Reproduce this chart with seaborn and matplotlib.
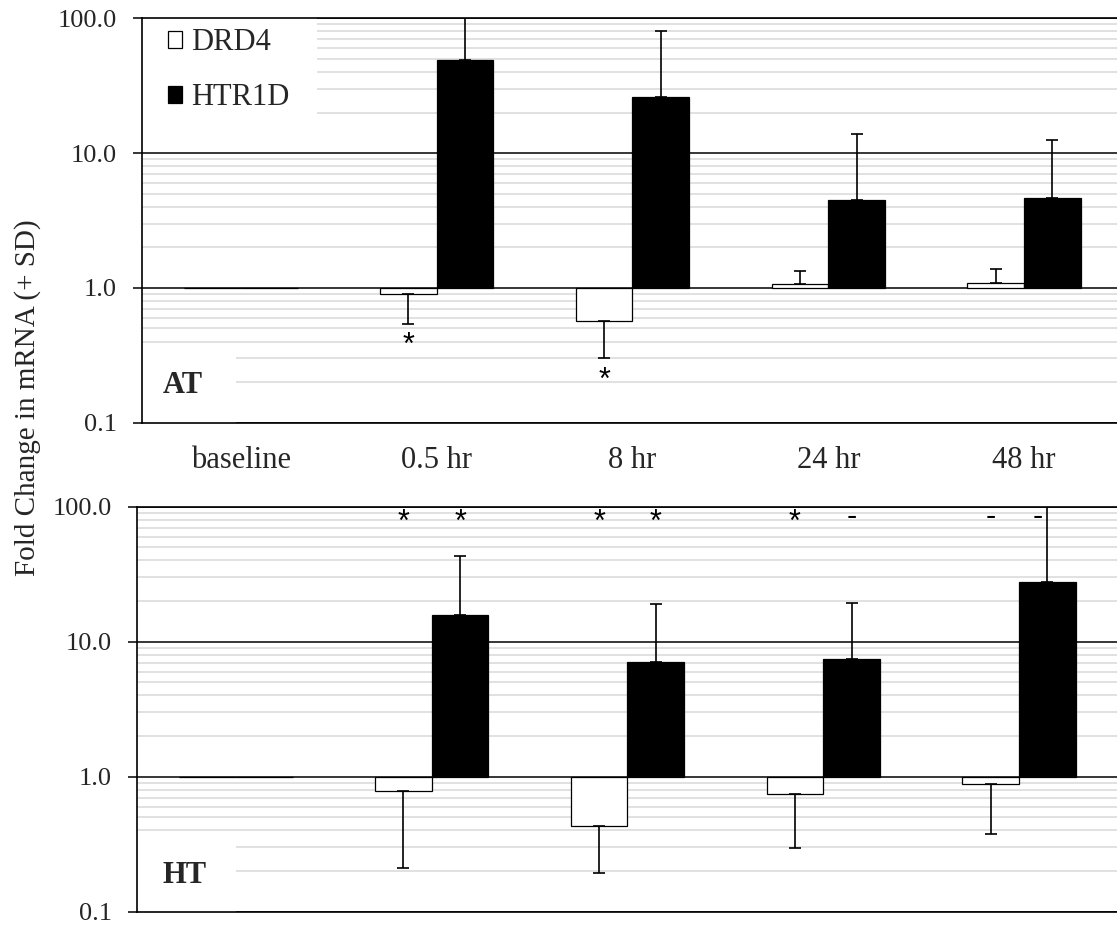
import matplotlib
matplotlib.use("Agg")
import matplotlib.pyplot as plt
from matplotlib.patches import Patch, Rectangle
from matplotlib.ticker import FixedLocator, FixedFormatter, LogLocator, NullFormatter
import pandas as pd
import seaborn as sns

# ---- data -------------------------------------------------------------
times = ["baseline", "0.5 hr", "8 hr", "24 hr", "48 hr"]
genes = ["DRD4", "HTR1D"]

# AT group: fold change and the end point of the +SD whisker
at_drd4 = [1.0, 0.90, 0.57, 1.07, 1.08]
at_drd4_sd_end = [1.0, 0.54, 0.30, 1.34, 1.37]
at_htr1d = [1.0, 49.3, 26.0, 4.5, 4.65]
at_htr1d_sd_end = [1.0, 150.0, 80.0, 13.9, 12.6]

# HT group
ht_drd4 = [1.0, 0.78, 0.43, 0.75, 0.89]
ht_drd4_sd_end = [1.0, 0.21, 0.195, 0.295, 0.375]
ht_htr1d = [1.0, 15.9, 7.1, 7.5, 27.5]
ht_htr1d_sd_end = [1.0, 43.0, 18.9, 19.2, 101.0]

# significance marks
at_marks_drd4 = ["", "*", "*", "", ""]
ht_marks_drd4 = ["", "*", "*", "*", "-"]
ht_marks_htr1d = ["", "*", "*", "-", "-"]

tick_values = [0.1, 1.0, 10.0, 100.0]
tick_labels = ["0.1", "1.0", "10.0", "100.0"]

# ---- style ------------------------------------------------------------
sns.set_style("white")
plt.rcParams["font.family"] = ["Liberation Serif", "DejaVu Serif"]
plt.rcParams["axes.linewidth"] = 1.2

W, H = 1117, 926
fig = plt.figure(figsize=(W / 100, H / 100), dpi=100)
fig.patch.set_facecolor("white")

ax_at = fig.add_axes([142 / W, 1 - 422.7 / H, 980 / W, 404.4 / H])
ax_ht = fig.add_axes([137 / W, 1 - 911.7 / H, 980 / W, 405.0 / H])


def draw_panel(ax, drd4, drd4_end, htr1d, htr1d_end, show_xlabels):
    df = pd.DataFrame({
        "time": times * 2,
        "gene": [genes[0]] * len(times) + [genes[1]] * len(times),
        "fold": drd4 + htr1d,
    })
    # bars grow from the 1.0 line, up or down
    df["rise"] = df["fold"] - 1.0
    sns.barplot(data=df, x="time", y="rise", hue="gene", order=times,
                hue_order=genes, palette=["white", "black"], saturation=1,
                edgecolor="black", linewidth=0.9, width=0.58, bottom=1.0,
                errorbar=None, legend=False, ax=ax, zorder=2)

    ax.set_yscale("log")
    ax.set_ylim(0.1, 100)
    ax.set_xlim(-0.505, 4.5)
    ax.yaxis.set_major_locator(FixedLocator(tick_values))
    ax.yaxis.set_major_formatter(FixedFormatter(tick_labels))
    ax.yaxis.set_minor_locator(LogLocator(base=10, subs=range(2, 10)))
    ax.yaxis.set_minor_formatter(NullFormatter())
    ax.set_axisbelow(True)
    ax.grid(which="minor", axis="y", color="#d9d9d9", linewidth=1.1)
    ax.grid(which="major", axis="y", color="black", linewidth=1.1)
    ax.grid(which="both", axis="x", visible=False)
    ax.set_xlabel("")
    ax.set_ylabel("")
    ax.tick_params(axis="y", which="major", length=6.5, width=1.1,
                   pad=11.5, labelsize=19, left=True, color="black")
    ax.tick_params(axis="y", which="minor", length=0)
    ax.tick_params(axis="x", length=0, pad=17, labelsize=22)
    if not show_xlabels:
        ax.set_xticklabels([])
    for side in ("left", "top", "bottom"):
        ax.spines[side].set_color("black")
        ax.spines[side].set_linewidth(1.2)
    ax.spines["right"].set_visible(False)

    # one-sided SD whiskers
    centers = []
    for cont, vals, ends in zip(ax.containers, [drd4, htr1d], [drd4_end, htr1d_end]):
        xs = []
        for bar, v, e in zip(cont, vals, ends):
            xc = bar.get_x() + bar.get_width() / 2
            xs.append(xc)
            if e == v:
                continue
            lo, hi = (v - e, 0.0) if e < v else (0.0, e - v)
            ax.errorbar(xc, v, yerr=[[lo], [hi]], fmt="none", ecolor="black",
                        elinewidth=1.2, capsize=4.3, capthick=1.2, zorder=3)
        centers.append(xs)
    return centers


at_centers = draw_panel(ax_at, at_drd4, at_drd4_sd_end, at_htr1d, at_htr1d_sd_end, True)
ht_centers = draw_panel(ax_ht, ht_drd4, ht_drd4_sd_end, ht_htr1d, ht_htr1d_sd_end, False)

mark_font = dict(family="Liberation Sans", fontsize=22, color="black")

# AT: marks beneath the DRD4 whiskers
for xc, end, m in zip(at_centers[0], at_drd4_sd_end, at_marks_drd4):
    if m:
        ax_at.annotate(m, (xc, end), xytext=(0, -16), textcoords="offset points",
                       ha="center", va="center", **mark_font)

# HT: marks along the top of the panel; the last one sits left of its whisker
top_tf = ax_ht.get_xaxis_transform()
for gi, (xs, marks) in enumerate(zip(ht_centers, [ht_marks_drd4, ht_marks_htr1d])):
    for ti, (xc, m) in enumerate(zip(xs, marks)):
        if m:
            dx = -7 if (gi == 1 and ti == len(times) - 1) else 0
            dy = -4.5 if m == "*" else 0
            ax_ht.annotate(m, (xc, 0.975), xycoords=top_tf, xytext=(dx, dy),
                           textcoords="offset points", ha="center", va="center",
                           **mark_font)

# white backing behind legend and panel tags
ax_at.add_patch(Rectangle((0, 0.6966), 0.1786, 0.3034, transform=ax_at.transAxes,
                          facecolor="white", edgecolor="none", zorder=1))
ax_at.add_patch(Rectangle((0, 0), 0.0959, 0.18, transform=ax_at.transAxes,
                          facecolor="white", edgecolor="none", zorder=1))
ax_ht.add_patch(Rectangle((0, 0), 0.101, 0.18, transform=ax_ht.transAxes,
                          facecolor="white", edgecolor="none", zorder=1))

ax_at.text(0.0214, 0.0727, "AT", transform=ax_at.transAxes, ha="left",
           va="baseline", fontsize=22, fontweight="bold")
ax_ht.text(0.0265, 0.0716, "HT", transform=ax_ht.transAxes, ha="left",
           va="baseline", fontsize=22, fontweight="bold")

handles = [Patch(facecolor="white", edgecolor="black", linewidth=0.9),
           Patch(facecolor="black", edgecolor="black", linewidth=0.9)]
ax_at.legend(handles, genes, loc="upper left", bbox_to_anchor=(0.027, 0.975),
             frameon=False, fontsize=22, handlelength=0.45, handleheight=0.45,
             handletextpad=0.3, labelspacing=0.85, borderpad=0, borderaxespad=0)

fig.text(0.0246, 1 - 398 / H, "Fold Change in mRNA (+ SD)", rotation=90,
         ha="center", va="center", fontsize=21)

fig.savefig("out.png", dpi=100, facecolor="white")
